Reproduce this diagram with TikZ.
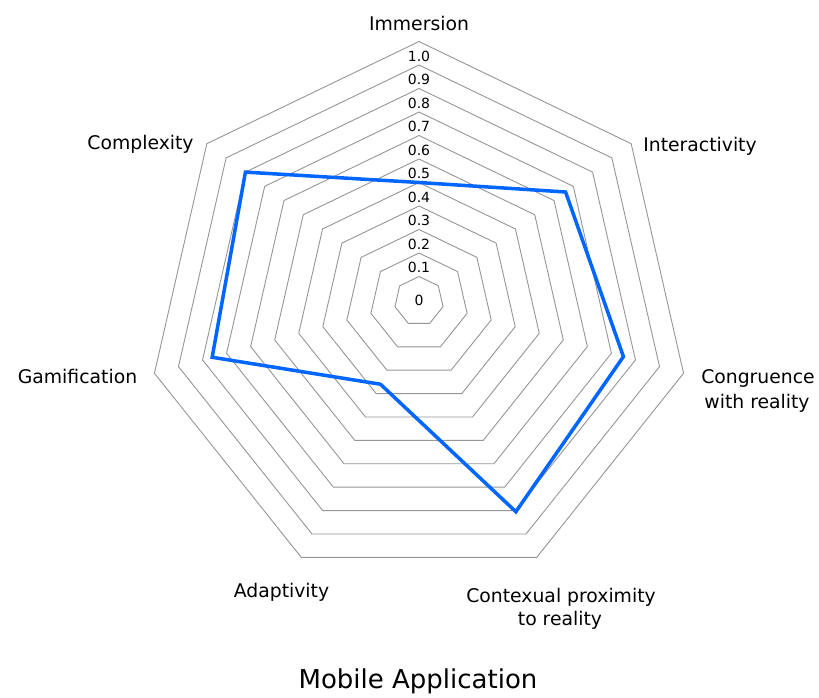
\documentclass[tikz,border=0pt]{standalone}
\usepackage{fontspec}
\setmainfont{DejaVu Sans}
\definecolor{gridgray}{RGB}{150,150,150}
\definecolor{datablue}{RGB}{0,102,255}
\begin{document}
\begin{tikzpicture}[x=1pt,y=-1pt,
  gridline/.style={draw=gridgray,line width=0.9pt},
  dataline/.style={draw=datablue,line width=3.5pt,line join=miter},
  axislabel/.style={font=\fontsize{18.8}{22}\selectfont,inner sep=0pt,anchor=base},
  ticklabel/.style={font=\fontsize{14}{16}\selectfont,inner sep=0pt},
  titlelabel/.style={font=\fontsize{26}{30}\selectfont,inner sep=0pt,anchor=base}]
\useasboundingbox[fill=white] (0,0) rectangle (819,697);
% grid rings
\foreach \k in {1,...,11}{
  \foreach \a [count=\i] in {90,38.5714,-12.8571,-64.2857,-115.7143,-167.1429,141.4286}{
    \coordinate (r\k-\i) at ({419+24.67*\k*cos(\a)},{300-24.67*\k*sin(\a)+1.17*\k});
  }
  \draw[gridline] (r\k-1) -- (r\k-2) -- (r\k-3) -- (r\k-4) -- (r\k-5) -- (r\k-6) -- (r\k-7) -- cycle;
}
% tick labels
\node[ticklabel] (t0) at (419,300) {0};
\foreach \v/\n in {1/0.1,2/0.2,3/0.3,4/0.4,5/0.5,6/0.6,7/0.7,8/0.8,9/0.9,10/1.0}{
  \node[ticklabel] (t\v) at (419,{300-23.5*\v-9}) {\n};
}
% data
\foreach \a/\v [count=\i] in {90/0.5,38.5714/0.76,-12.8571/0.85,-64.2857/0.905,-115.7143/0.36,-167.1429/0.86,141.4286/0.9}{
  \coordinate (d\i) at ({419+246.7*\v*cos(\a)},{300-246.7*\v*sin(\a)+11.7*\v});
}
\draw[dataline] (d1) -- (d2) -- (d3) -- (d4) -- (d5) -- (d6) -- (d7) -- cycle;
% axis labels
\node[axislabel] (immersion) at (419,30) {Immersion};
\node[axislabel] (interactivity) at (700,151) {Interactivity};
\node[axislabel] (congA) at (758,383) {Congruence};
\node[axislabel] (congB) at (757,408) {with reality};
\node[axislabel] (contA) at (561,602) {Contexual proximity};
\node[axislabel] (contB) at (560,625) {to reality};
\node[axislabel] (adaptivity) at (281.5,597) {Adaptivity};
\node[axislabel] (gamification) at (77.5,383) {Gamification};
\node[axislabel] (complexity) at (140.5,149) {Complexity};
% title
\node[titlelabel] (title) at (418,688) {Mobile Application};
\end{tikzpicture}
\end{document}
